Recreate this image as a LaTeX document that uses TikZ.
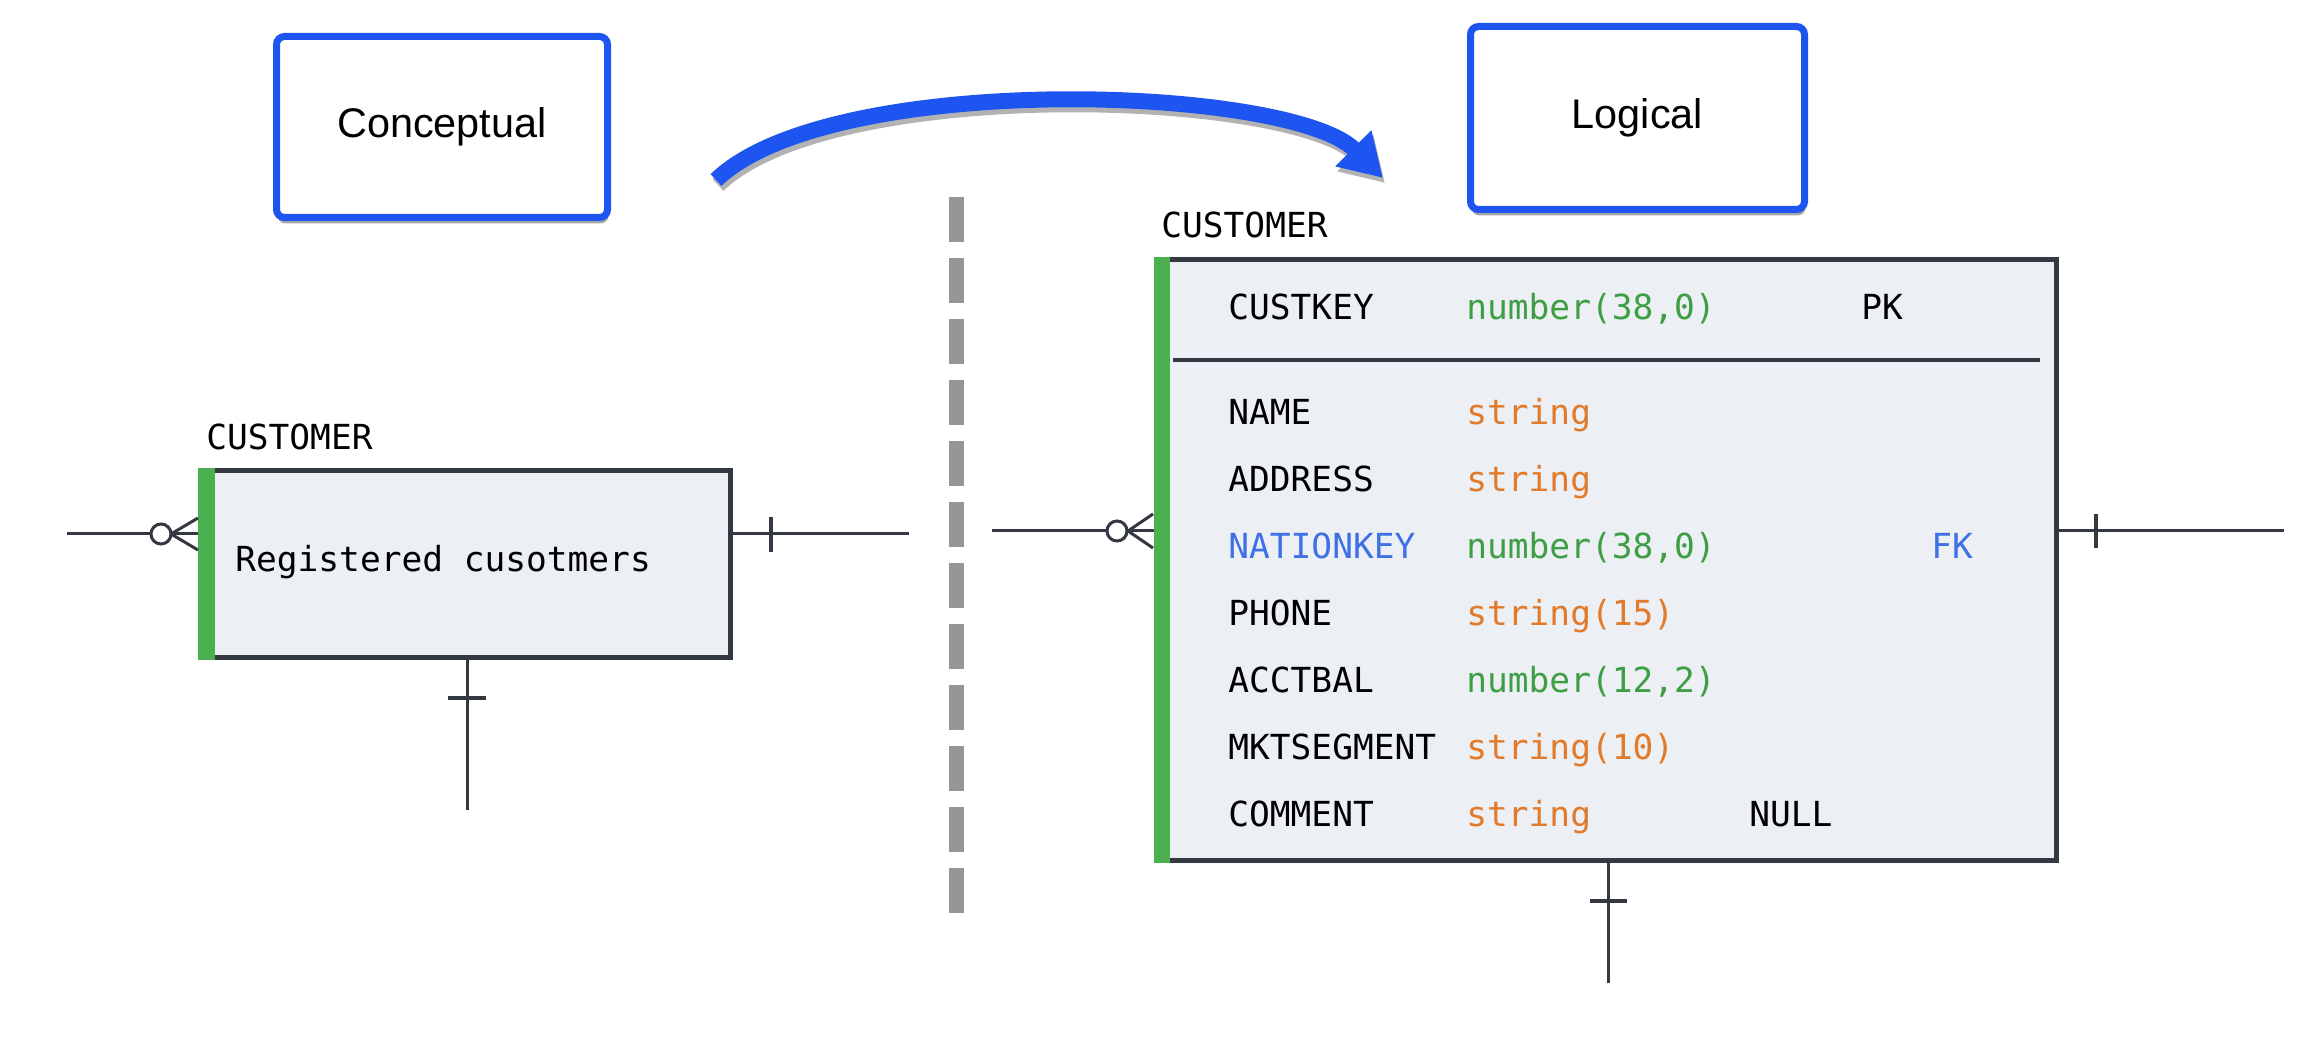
\documentclass[tikz,border=0pt]{standalone}
\usepackage{fontspec}
\setmainfont{Liberation Sans}
\newfontfamily\ermono{DejaVu Sans Mono}
\usetikzlibrary{arrows.meta,shadows}
\definecolor{boxblue}{RGB}{30,85,240}
\definecolor{erborder}{RGB}{52,56,66}
\definecolor{erfill}{RGB}{236,239,244}
\definecolor{bargreen}{RGB}{76,175,80}
\definecolor{tgreen}{RGB}{62,158,68}
\definecolor{torange}{RGB}{226,122,42}
\definecolor{tblue}{RGB}{62,112,230}
\definecolor{dashgray}{RGB}{150,150,150}
\tikzset{
  bluebox/.style={draw=boxblue, line width=3.5pt, rounded corners=4pt, fill=white,
    inner sep=0pt, font=\fontsize{20.7}{24}\selectfont,
    drop shadow={shadow xshift=0.5pt, shadow yshift=-3pt, fill=black, opacity=0.35}},
  entity/.style={draw=erborder, line width=2.5pt, fill=erfill, inner sep=0pt},
  ertext/.style={font=\ermono\fontsize{17.25}{20}\selectfont, anchor=base west, inner sep=0pt},
  conn/.style={draw=erborder, line width=1.5pt},
  tickmark/.style={draw=erborder, line width=2pt},
  sepline/.style={draw=erborder, line width=2pt},
}
\begin{document}
\begin{tikzpicture}[x=0.5pt,y=-0.5pt]
\useasboundingbox[fill=white] (0,0) rectangle (2314,1042);

% blue level boxes
\node[bluebox, minimum width=165.5pt, minimum height=90.5pt] (concept) at (442,127) {Conceptual};
\node[bluebox, minimum width=167pt, minimum height=91.5pt] (logical) at (1637.5,118) {Logical};

% curved arrow
\coordinate (as) at (716,180);
\coordinate (ae) at (1383,178);
\draw[black, opacity=0.3, line width=8pt, -{Triangle[length=21pt,width=24pt]}]
  ([shift={(2,5)}]as) .. controls (832,75) and (1292,90) .. ([shift={(2,5)}]ae);
\draw[boxblue, line width=8pt, -{Triangle[length=21pt,width=24pt]}]
  (as) .. controls (830,70) and (1290,85) .. (ae);

% dashed separator
\coordinate (d1) at (956,197);
\coordinate (d2) at (956,913);
\draw[dashgray, line width=7.5pt, dash pattern=on 22.5pt off 8pt] (d1) -- (d2);

% ---------- conceptual entity ----------
\node[ertext] (lname) at (206,450) {CUSTOMER};
\node[entity, minimum width=265pt, minimum height=93.5pt] (lbox) at (465.5,564) {};
\fill[bargreen] (198,468) rectangle (215,660);
\node[ertext] (ldesc) at (235,572) {Registered cusotmers};

\coordinate (lleft) at (67,534);
\coordinate (lright) at (909,534);
\coordinate (lbot) at (467,810);
\draw[conn] (lleft) -- (lbox.west |- lleft);
\draw[conn] (198,518) -- (171,534) -- (198,550);
\draw[conn, fill=white] (161,534) circle[radius=5pt];
\draw[conn] (lbox.east |- lright) -- (lright);
\draw[tickmark] (771,517) -- (771,552);
\draw[conn] (lbot |- lbox.south) -- (lbot);
\draw[tickmark] (448,698) -- (486,698);

% ---------- logical entity ----------
\node[ertext] (rname) at (1161,238) {CUSTOMER};
\node[entity, minimum width=450pt, minimum height=300.5pt] (rbox) at (1606.5,560) {};
\fill[bargreen] (1154,257) rectangle (1170,863);
\coordinate (s1) at (1173,360);
\coordinate (s2) at (2040,360);
\draw[sepline] (s1) -- (s2);

\node[ertext] (n1) at (1228,320) {CUSTKEY};
\node[ertext, text=tgreen] (t1) at (1466,320) {number(38,0)};
\node[ertext] (k1) at (1861,320) {PK};
\node[ertext] (n2) at (1228,425) {NAME};
\node[ertext, text=torange] (t2) at (1466,425) {string};
\node[ertext] (n3) at (1228,492) {ADDRESS};
\node[ertext, text=torange] (t3) at (1466,492) {string};
\node[ertext, text=tblue] (n4) at (1228,559) {NATIONKEY};
\node[ertext, text=tgreen] (t4) at (1466,559) {number(38,0)};
\node[ertext, text=tblue] (k4) at (1931,559) {FK};
\node[ertext] (n5) at (1228,626) {PHONE};
\node[ertext, text=torange] (t5) at (1466,626) {string(15)};
\node[ertext] (n6) at (1228,693) {ACCTBAL};
\node[ertext, text=tgreen] (t6) at (1466,693) {number(12,2)};
\node[ertext] (n7) at (1228,760) {MKTSEGMENT};
\node[ertext, text=torange] (t7) at (1466,760) {string(10)};
\node[ertext] (n8) at (1228,826) {COMMENT};
\node[ertext, text=torange] (t8) at (1466,826) {string};
\node[ertext] (k8) at (1749,826) {NULL};

\coordinate (rleft) at (992,531);
\coordinate (rright) at (2284,531);
\coordinate (rbot) at (1608,983);
\draw[conn] (rleft) -- (rbox.west |- rleft);
\draw[conn] (1153,514) -- (1128,531) -- (1153,548);
\draw[conn, fill=white] (1117,531) circle[radius=5pt];
\draw[conn] (rbox.east |- rright) -- (rright);
\draw[tickmark] (2096,514) -- (2096,548);
\draw[conn] (rbot |- rbox.south) -- (rbot);
\draw[tickmark] (1590,901) -- (1627,901);
\end{tikzpicture}
\end{document}
